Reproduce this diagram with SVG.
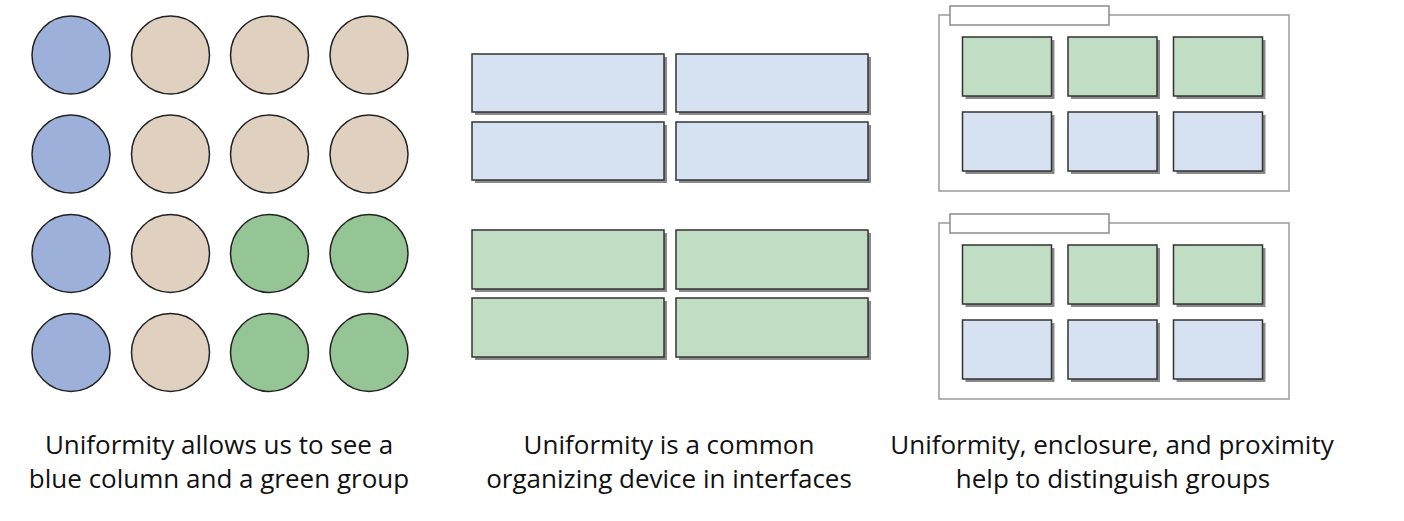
<svg xmlns="http://www.w3.org/2000/svg" width="1404" height="521" viewBox="0 0 1404 521">
<style>
.c{stroke:#222;stroke-width:1.5}
.cb{fill:#9cb0d9}.ct{fill:#e0d0bf}.cg{fill:#95c595}
.sh{fill:#8a8a8a}
.r{stroke:#333;stroke-width:1.5}
.rb{fill:#d6e1f1}.rg{fill:#c1ddc3}
.fr{fill:none;stroke:#8c8c8c;stroke-width:1.3}
.tab{fill:#fff;stroke:#8c8c8c;stroke-width:1.5}
.t{font-family:"Open Sans","Liberation Sans",sans-serif;font-size:26px;fill:#111;text-anchor:middle}
</style>
<rect width="1404" height="521" fill="#fff"/>
<g id="circles">
<circle class="c cb" cx="71" cy="55" r="39"/><circle class="c ct" cx="170.5" cy="55" r="39"/><circle class="c ct" cx="269.5" cy="55" r="39"/><circle class="c ct" cx="369" cy="55" r="39"/>
<circle class="c cb" cx="71" cy="154" r="39"/><circle class="c ct" cx="170.5" cy="154" r="39"/><circle class="c ct" cx="269.5" cy="154" r="39"/><circle class="c ct" cx="369" cy="154" r="39"/>
<circle class="c cb" cx="71" cy="253.5" r="39"/><circle class="c ct" cx="170.5" cy="253.5" r="39"/><circle class="c cg" cx="269.5" cy="253.5" r="39"/><circle class="c cg" cx="369" cy="253.5" r="39"/>
<circle class="c cb" cx="71" cy="352.5" r="39"/><circle class="c ct" cx="170.5" cy="352.5" r="39"/><circle class="c cg" cx="269.5" cy="352.5" r="39"/><circle class="c cg" cx="369" cy="352.5" r="39"/>
</g>
<g id="bars">
<rect class="sh" x="475" y="57" width="192" height="58"/><rect class="r rb" x="472" y="54" width="192" height="58"/>
<rect class="sh" x="679" y="57" width="192" height="58"/><rect class="r rb" x="676" y="54" width="192" height="58"/>
<rect class="sh" x="475" y="125" width="192" height="58"/><rect class="r rb" x="472" y="122" width="192" height="58"/>
<rect class="sh" x="679" y="125" width="192" height="58"/><rect class="r rb" x="676" y="122" width="192" height="58"/>
<rect class="sh" x="475" y="233" width="192" height="59"/><rect class="r rg" x="472" y="230" width="192" height="59"/>
<rect class="sh" x="679" y="233" width="192" height="59"/><rect class="r rg" x="676" y="230" width="192" height="59"/>
<rect class="sh" x="475" y="301" width="192" height="59"/><rect class="r rg" x="472" y="298" width="192" height="59"/>
<rect class="sh" x="679" y="301" width="192" height="59"/><rect class="r rg" x="676" y="298" width="192" height="59"/>
</g>
<g id="panel-top">
<rect class="fr" x="939" y="15" width="350" height="176"/>
<rect class="tab" x="950" y="6" width="159" height="19"/>
<rect class="sh" x="965.5" y="40" width="89" height="59"/><rect class="r rg" x="962.5" y="37" width="89" height="59"/>
<rect class="sh" x="1071" y="40" width="89" height="59"/><rect class="r rg" x="1068" y="37" width="89" height="59"/>
<rect class="sh" x="1176.5" y="40" width="89" height="59"/><rect class="r rg" x="1173.5" y="37" width="89" height="59"/>
<rect class="sh" x="965.5" y="115" width="89" height="59"/><rect class="r rb" x="962.5" y="112" width="89" height="59"/>
<rect class="sh" x="1071" y="115" width="89" height="59"/><rect class="r rb" x="1068" y="112" width="89" height="59"/>
<rect class="sh" x="1176.5" y="115" width="89" height="59"/><rect class="r rb" x="1173.5" y="112" width="89" height="59"/>
</g>
<g id="panel-bottom">
<rect class="fr" x="939" y="223" width="350" height="176"/>
<rect class="tab" x="950" y="214" width="159" height="19"/>
<rect class="sh" x="965.5" y="248" width="89" height="59"/><rect class="r rg" x="962.5" y="245" width="89" height="59"/>
<rect class="sh" x="1071" y="248" width="89" height="59"/><rect class="r rg" x="1068" y="245" width="89" height="59"/>
<rect class="sh" x="1176.5" y="248" width="89" height="59"/><rect class="r rg" x="1173.5" y="245" width="89" height="59"/>
<rect class="sh" x="965.5" y="323" width="89" height="59"/><rect class="r rb" x="962.5" y="320" width="89" height="59"/>
<rect class="sh" x="1071" y="323" width="89" height="59"/><rect class="r rb" x="1068" y="320" width="89" height="59"/>
<rect class="sh" x="1176.5" y="323" width="89" height="59"/><rect class="r rb" x="1173.5" y="320" width="89" height="59"/>
</g>
<g id="captions">
<text class="t" x="219" y="454">Uniformity allows us to see a</text>
<text class="t" x="219" y="488">blue column and a green group</text>
<text class="t" x="669" y="454">Uniformity is a common</text>
<text class="t" x="669" y="488">organizing device in interfaces</text>
<text class="t" x="1112" y="454">Uniformity, enclosure, and proximity</text>
<text class="t" x="1113" y="488">help to distinguish groups</text>
</g>
</svg>
